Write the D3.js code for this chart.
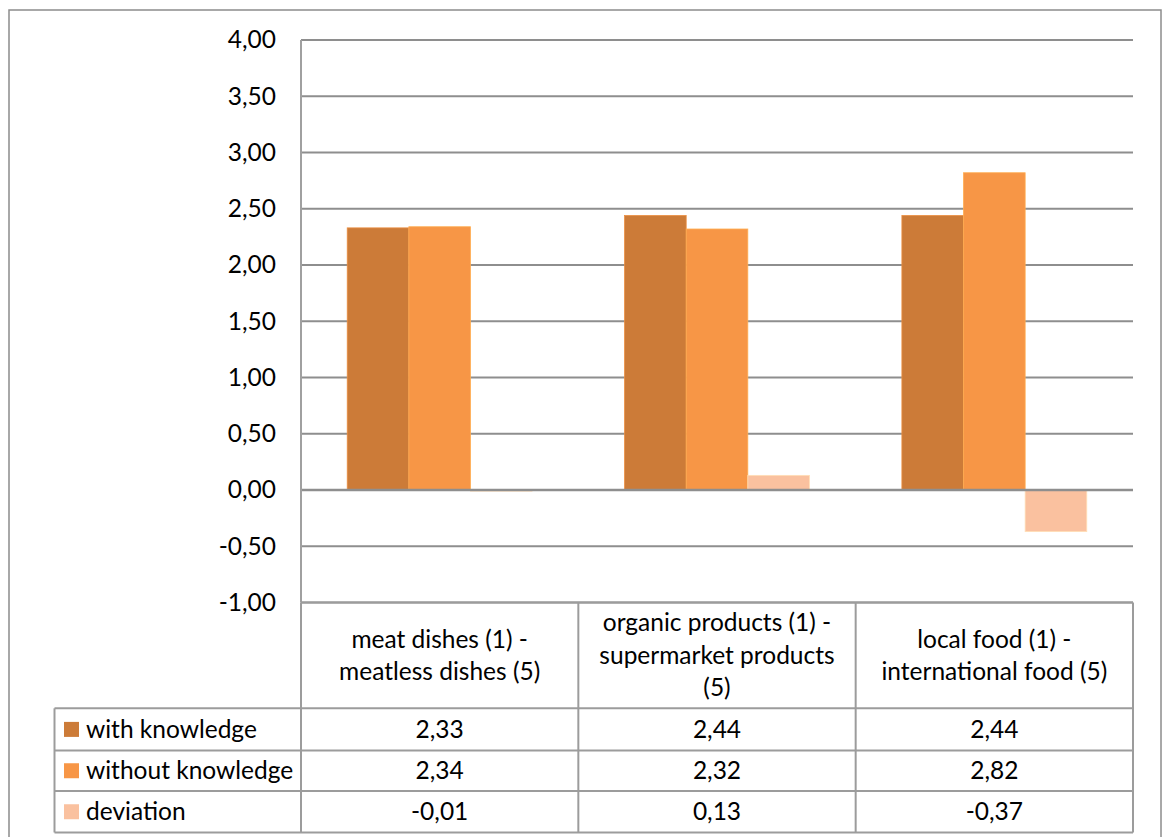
<!DOCTYPE html>
<html>
<head>
<meta charset="utf-8">
<script src="https://cdn.jsdelivr.net/npm/d3@7"></script>
<style>
  html, body { margin: 0; padding: 0; background: #fff; }
  svg { display: block; }
  text { font-family: Lato, "Open Sans", sans-serif; fill: #000; }
</style>
</head>
<body>
<svg id="chart" width="1163" height="837"></svg>
<script>
// Category labels (each line of the header cell)
const categories = ["meat", "organic", "local"];
const categoryLines = [
  ["meat dishes (1) -", "meatless dishes (5)"],
  ["organic products (1) -", "supermarket products", "(5)"],
  ["local food (1) -", "international food (5)"]
];

// Series
const seriesNames = ["with knowledge", "without knowledge", "deviation"];
const seriesColors = ["#CC7B38", "#F79646", "#FAC19F"];
const withKnowledge = [2.33, 2.44, 2.44];
const withoutKnowledge = [2.34, 2.32, 2.82];
const deviation = [-0.01, 0.13, -0.37];
const seriesValues = [withKnowledge, withoutKnowledge, deviation];

// Value axis ticks
const yTicks = [-1, -0.5, 0, 0.5, 1, 1.5, 2, 2.5, 3, 3.5, 4];

const FONT_SIZE = 24.5;
const svg = d3.select("#chart");
const fmt = d3.formatLocale({ decimal: ",", thousands: ".", grouping: [3], currency: ["", ""], minus: "-" }).format(".2f");

// Layout
const plot = { left: 301, right: 1133, top: 40, bottom: 602.5 };
const table = { legendLeft: 54.5, headerBottom: 708.3, rowBottoms: [750.5, 791, 832.5] };

// Outer chart frame
svg.append("rect")
  .attr("x", 9).attr("y", 10)
  .attr("width", 1152).attr("height", 900)
  .attr("fill", "none").attr("stroke", "#8c8c8c").attr("stroke-width", 1.5);

const y = d3.scaleLinear().domain([-1, 4]).range([plot.bottom, plot.top]);
const x = d3.scaleBand().domain(categories).range([plot.left, plot.right]).padding(0);
const bw = x.bandwidth();
const barW = bw / 4.5;
const xs = d3.scaleBand().domain(seriesNames).range([barW * 0.75, bw - barW * 0.75]).padding(0);

// Gridlines
svg.append("g")
  .selectAll("line")
  .data(yTicks.filter(d => d !== 0))
  .join("line")
  .attr("x1", plot.left).attr("x2", plot.right)
  .attr("y1", d => y(d)).attr("y2", d => y(d))
  .attr("stroke", "#8e8e8e").attr("stroke-width", 2);

// Vertical axis labels via d3 axis
const yAxis = svg.append("g")
  .attr("transform", `translate(${plot.left},0)`)
  .call(d3.axisLeft(y).tickValues(yTicks).tickFormat(fmt).tickSize(0).tickPadding(25));
yAxis.select(".domain").remove();
yAxis.selectAll("text")
  .style("font-family", "Lato, 'Open Sans', sans-serif")
  .style("font-size", FONT_SIZE + "px")
  .attr("fill", "#000");

// Bars
const barData = [];
categories.forEach((c, i) => {
  seriesNames.forEach((s, j) => {
    barData.push({ cat: c, series: s, value: seriesValues[j][i], color: seriesColors[j] });
  });
});

svg.append("g")
  .selectAll("rect")
  .data(barData)
  .join("rect")
  .attr("x", d => x(d.cat) + xs(d.series))
  .attr("width", xs.bandwidth())
  .attr("y", d => y(Math.max(0, d.value)))
  .attr("height", d => Math.abs(y(d.value) - y(0)))
  .attr("fill", d => d.color)
  .attr("stroke", d => d3.color(d.color).brighter(0.4))
  .attr("stroke-width", 0.8);

// Category axis line at zero, drawn over the bars
svg.append("line")
  .attr("x1", plot.left).attr("x2", plot.right)
  .attr("y1", y(0)).attr("y2", y(0))
  .attr("stroke", "#8e8e8e").attr("stroke-width", 2.5);

// Vertical axis line
svg.append("line")
  .attr("x1", plot.left).attr("x2", plot.left)
  .attr("y1", plot.top).attr("y2", plot.bottom)
  .attr("stroke", "#a0a0a0").attr("stroke-width", 2);

// Data table
const tableG = svg.append("g");
const lineColor = "#9c9c9c";
const allBottoms = [table.headerBottom, ...table.rowBottoms];
tableG.append("line")
  .attr("x1", plot.left).attr("x2", plot.right)
  .attr("y1", plot.bottom).attr("y2", plot.bottom)
  .attr("stroke", lineColor).attr("stroke-width", 2);
allBottoms.forEach(yy => {
  tableG.append("line")
    .attr("x1", table.legendLeft).attr("x2", plot.right)
    .attr("y1", yy).attr("y2", yy)
    .attr("stroke", lineColor).attr("stroke-width", 2);
});
const colEdges = [plot.left, ...categories.map(c => x(c) + bw)];
colEdges.forEach(xx => {
  tableG.append("line")
    .attr("x1", xx).attr("x2", xx)
    .attr("y1", plot.bottom).attr("y2", table.rowBottoms[2])
    .attr("stroke", lineColor).attr("stroke-width", 2);
});
tableG.append("line")
  .attr("x1", table.legendLeft).attr("x2", table.legendLeft)
  .attr("y1", table.headerBottom).attr("y2", table.rowBottoms[2])
  .attr("stroke", lineColor).attr("stroke-width", 2);

// Header labels
const headerMid = (plot.bottom + table.headerBottom) / 2;
const lineH = 32.5;
categories.forEach((c, i) => {
  const lines = categoryLines[i];
  const t = tableG.append("text")
    .attr("text-anchor", "middle")
    .attr("font-size", FONT_SIZE);
  lines.forEach((ln, k) => {
    t.append("tspan")
      .attr("x", x(c) + bw / 2)
      .attr("y", headerMid + (k - (lines.length - 1) / 2) * lineH)
      .attr("dy", "0.35em")
      .text(ln);
  });
});

// Rows: legend key + values
const rowTops = [table.headerBottom, table.rowBottoms[0], table.rowBottoms[1]];
seriesNames.forEach((s, j) => {
  const mid = (rowTops[j] + table.rowBottoms[j]) / 2;
  tableG.append("rect")
    .attr("x", 64).attr("y", mid - 7.5)
    .attr("width", 15).attr("height", 15)
    .attr("fill", seriesColors[j]);
  tableG.append("text")
    .attr("x", 86).attr("y", mid).attr("dy", "0.35em")
    .attr("font-size", FONT_SIZE)
    .text(s);
  categories.forEach((c, i) => {
    tableG.append("text")
      .attr("x", x(c) + bw / 2).attr("y", mid).attr("dy", "0.35em")
      .attr("text-anchor", "middle")
      .attr("font-size", FONT_SIZE)
      .text(fmt(seriesValues[j][i]));
  });
});
</script>
</body>
</html>
